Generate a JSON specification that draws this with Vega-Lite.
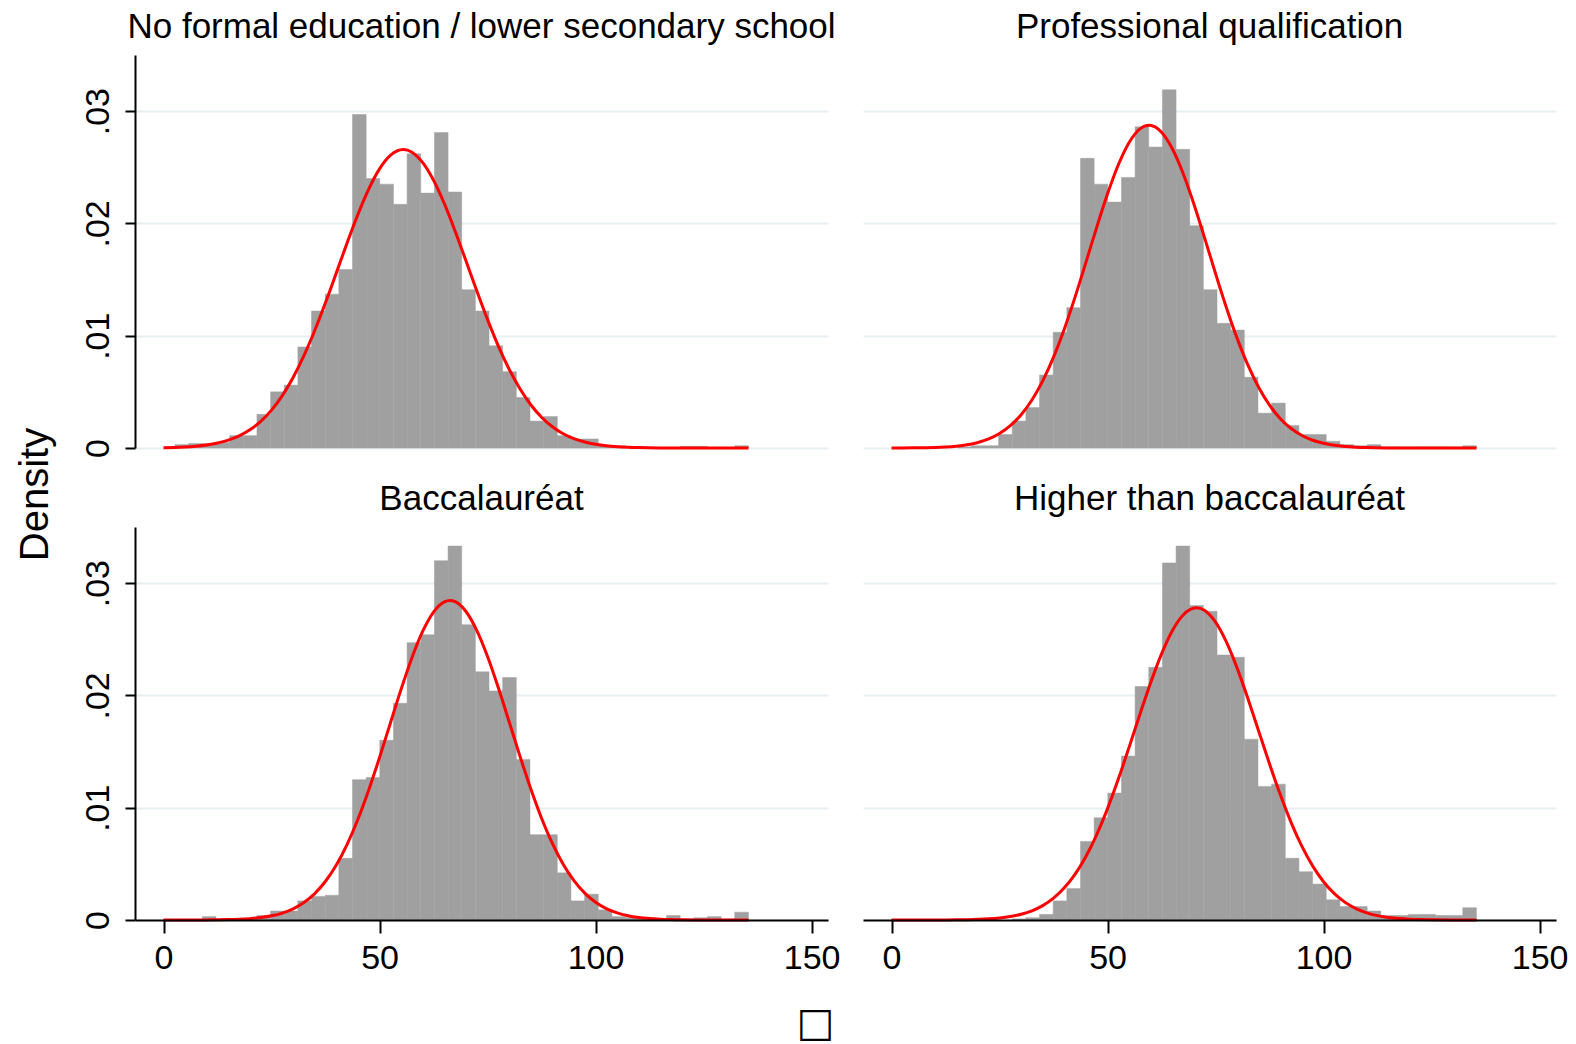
{
  "$schema": "https://vega.github.io/schema/vega-lite/v6.json",
  "background": "white",
  "padding": {"left": 15, "top": 10, "right": 4, "bottom": 3},
  "bounds": "flush",
  "columns": 2,
  "spacing": {"row": 79, "column": 35},
  "config": {
    "view": {"stroke": null},
    "font": "Liberation Sans",
    "axis": {
      "labelFont": "Liberation Sans", "labelColor": "#000", "labelFontSize": 34,
      "titleFont": "Liberation Sans", "titleColor": "#000", "titleFontWeight": "normal",
      "domainColor": "#000", "domainWidth": 2, "tickColor": "#000", "tickWidth": 2,
      "gridColor": "#e8eff1", "gridWidth": 2, "labelFlush": false, "labelOverlap": false
    },
    "title": {"font": "Liberation Sans", "fontSize": 35, "fontWeight": "normal", "color": "#000", "anchor": "middle", "baseline": "alphabetic", "offset": 10, "frame": "group"}
  },
  "datasets": {
    "bars": [
      {"panel": "TL", "score": 2.66, "score_end": 5.82, "density": 0.0003},
      {"panel": "TL", "score": 5.82, "score_end": 8.98, "density": 0.0004},
      {"panel": "TL", "score": 8.98, "score_end": 12.14, "density": 0.0004},
      {"panel": "TL", "score": 12.14, "score_end": 15.3, "density": 0.0005},
      {"panel": "TL", "score": 15.3, "score_end": 18.46, "density": 0.0011},
      {"panel": "TL", "score": 18.46, "score_end": 21.62, "density": 0.0011},
      {"panel": "TL", "score": 21.62, "score_end": 24.78, "density": 0.0030},
      {"panel": "TL", "score": 24.78, "score_end": 27.94, "density": 0.0050},
      {"panel": "TL", "score": 27.94, "score_end": 31.1, "density": 0.0056},
      {"panel": "TL", "score": 31.1, "score_end": 34.26, "density": 0.0090},
      {"panel": "TL", "score": 34.26, "score_end": 37.42, "density": 0.0122},
      {"panel": "TL", "score": 37.42, "score_end": 40.58, "density": 0.0137},
      {"panel": "TL", "score": 40.58, "score_end": 43.74, "density": 0.0159},
      {"panel": "TL", "score": 43.74, "score_end": 46.9, "density": 0.0297},
      {"panel": "TL", "score": 46.9, "score_end": 50.06, "density": 0.0240},
      {"panel": "TL", "score": 50.06, "score_end": 53.22, "density": 0.0235},
      {"panel": "TL", "score": 53.22, "score_end": 56.38, "density": 0.0217},
      {"panel": "TL", "score": 56.38, "score_end": 59.54, "density": 0.0262},
      {"panel": "TL", "score": 59.54, "score_end": 62.7, "density": 0.0227},
      {"panel": "TL", "score": 62.7, "score_end": 65.86, "density": 0.0281},
      {"panel": "TL", "score": 65.86, "score_end": 69.02, "density": 0.0228},
      {"panel": "TL", "score": 69.02, "score_end": 72.18, "density": 0.0141},
      {"panel": "TL", "score": 72.18, "score_end": 75.34, "density": 0.0122},
      {"panel": "TL", "score": 75.34, "score_end": 78.5, "density": 0.0091},
      {"panel": "TL", "score": 78.5, "score_end": 81.66, "density": 0.0068},
      {"panel": "TL", "score": 81.66, "score_end": 84.82, "density": 0.0045},
      {"panel": "TL", "score": 84.82, "score_end": 87.98, "density": 0.0024},
      {"panel": "TL", "score": 87.98, "score_end": 91.14, "density": 0.0028},
      {"panel": "TL", "score": 91.14, "score_end": 94.3, "density": 0.0011},
      {"panel": "TL", "score": 94.3, "score_end": 97.46, "density": 0.0008},
      {"panel": "TL", "score": 97.46, "score_end": 100.62, "density": 0.0008},
      {"panel": "TL", "score": 100.62, "score_end": 103.78, "density": 0.0002},
      {"panel": "TL", "score": 103.78, "score_end": 106.94, "density": 0.0002},
      {"panel": "TL", "score": 119.58, "score_end": 122.74, "density": 0.00015},
      {"panel": "TL", "score": 122.74, "score_end": 125.9, "density": 0.00015},
      {"panel": "TL", "score": 132.22, "score_end": 135.38, "density": 0.0002},

      {"panel": "TR", "score": 15.3, "score_end": 18.46, "density": 0.0001},
      {"panel": "TR", "score": 18.46, "score_end": 21.62, "density": 0.0002},
      {"panel": "TR", "score": 21.62, "score_end": 24.78, "density": 0.0002},
      {"panel": "TR", "score": 24.78, "score_end": 27.94, "density": 0.0012},
      {"panel": "TR", "score": 27.94, "score_end": 31.1, "density": 0.0024},
      {"panel": "TR", "score": 31.1, "score_end": 34.26, "density": 0.0036},
      {"panel": "TR", "score": 34.26, "score_end": 37.42, "density": 0.0065},
      {"panel": "TR", "score": 37.42, "score_end": 40.58, "density": 0.0103},
      {"panel": "TR", "score": 40.58, "score_end": 43.74, "density": 0.0125},
      {"panel": "TR", "score": 43.74, "score_end": 46.9, "density": 0.0258},
      {"panel": "TR", "score": 46.9, "score_end": 50.06, "density": 0.0235},
      {"panel": "TR", "score": 50.06, "score_end": 53.22, "density": 0.0219},
      {"panel": "TR", "score": 53.22, "score_end": 56.38, "density": 0.0241},
      {"panel": "TR", "score": 56.38, "score_end": 59.54, "density": 0.0286},
      {"panel": "TR", "score": 59.54, "score_end": 62.7, "density": 0.0268},
      {"panel": "TR", "score": 62.7, "score_end": 65.86, "density": 0.0319},
      {"panel": "TR", "score": 65.86, "score_end": 69.02, "density": 0.0266},
      {"panel": "TR", "score": 69.02, "score_end": 72.18, "density": 0.0198},
      {"panel": "TR", "score": 72.18, "score_end": 75.34, "density": 0.0141},
      {"panel": "TR", "score": 75.34, "score_end": 78.5, "density": 0.0111},
      {"panel": "TR", "score": 78.5, "score_end": 81.66, "density": 0.0105},
      {"panel": "TR", "score": 81.66, "score_end": 84.82, "density": 0.0063},
      {"panel": "TR", "score": 84.82, "score_end": 87.98, "density": 0.0031},
      {"panel": "TR", "score": 87.98, "score_end": 91.14, "density": 0.0040},
      {"panel": "TR", "score": 91.14, "score_end": 94.3, "density": 0.0020},
      {"panel": "TR", "score": 94.3, "score_end": 97.46, "density": 0.0012},
      {"panel": "TR", "score": 97.46, "score_end": 100.62, "density": 0.0012},
      {"panel": "TR", "score": 100.62, "score_end": 103.78, "density": 0.0006},
      {"panel": "TR", "score": 103.78, "score_end": 106.94, "density": 0.0003},
      {"panel": "TR", "score": 106.94, "score_end": 110.1, "density": 0.0002},
      {"panel": "TR", "score": 110.1, "score_end": 113.26, "density": 0.0003},
      {"panel": "TR", "score": 113.26, "score_end": 116.42, "density": 0.0001},
      {"panel": "TR", "score": 116.42, "score_end": 119.58, "density": 0.0001},
      {"panel": "TR", "score": 119.58, "score_end": 122.74, "density": 0.0001},
      {"panel": "TR", "score": 122.74, "score_end": 125.9, "density": 0.0001},
      {"panel": "TR", "score": 125.9, "score_end": 129.06, "density": 0.0001},
      {"panel": "TR", "score": 129.06, "score_end": 132.22, "density": 0.0001},
      {"panel": "TR", "score": 132.22, "score_end": 135.38, "density": 0.0002},

      {"panel": "BL", "score": 8.98, "score_end": 12.14, "density": 0.0003},
      {"panel": "BL", "score": 18.46, "score_end": 21.62, "density": 0.0001},
      {"panel": "BL", "score": 21.62, "score_end": 24.78, "density": 0.0004},
      {"panel": "BL", "score": 24.78, "score_end": 27.94, "density": 0.0008},
      {"panel": "BL", "score": 27.94, "score_end": 31.1, "density": 0.0008},
      {"panel": "BL", "score": 31.1, "score_end": 34.26, "density": 0.0017},
      {"panel": "BL", "score": 34.26, "score_end": 37.42, "density": 0.0021},
      {"panel": "BL", "score": 37.42, "score_end": 40.58, "density": 0.0022},
      {"panel": "BL", "score": 40.58, "score_end": 43.74, "density": 0.0055},
      {"panel": "BL", "score": 43.74, "score_end": 46.9, "density": 0.0125},
      {"panel": "BL", "score": 46.9, "score_end": 50.06, "density": 0.0127},
      {"panel": "BL", "score": 50.06, "score_end": 53.22, "density": 0.0160},
      {"panel": "BL", "score": 53.22, "score_end": 56.38, "density": 0.0193},
      {"panel": "BL", "score": 56.38, "score_end": 59.54, "density": 0.0247},
      {"panel": "BL", "score": 59.54, "score_end": 62.7, "density": 0.0254},
      {"panel": "BL", "score": 62.7, "score_end": 65.86, "density": 0.0320},
      {"panel": "BL", "score": 65.86, "score_end": 69.02, "density": 0.0333},
      {"panel": "BL", "score": 69.02, "score_end": 72.18, "density": 0.0263},
      {"panel": "BL", "score": 72.18, "score_end": 75.34, "density": 0.0221},
      {"panel": "BL", "score": 75.34, "score_end": 78.5, "density": 0.0204},
      {"panel": "BL", "score": 78.5, "score_end": 81.66, "density": 0.0216},
      {"panel": "BL", "score": 81.66, "score_end": 84.82, "density": 0.0143},
      {"panel": "BL", "score": 84.82, "score_end": 87.98, "density": 0.0076},
      {"panel": "BL", "score": 87.98, "score_end": 91.14, "density": 0.0076},
      {"panel": "BL", "score": 91.14, "score_end": 94.3, "density": 0.0042},
      {"panel": "BL", "score": 94.3, "score_end": 97.46, "density": 0.0017},
      {"panel": "BL", "score": 97.46, "score_end": 100.62, "density": 0.0023},
      {"panel": "BL", "score": 100.62, "score_end": 103.78, "density": 0.0009},
      {"panel": "BL", "score": 103.78, "score_end": 106.94, "density": 0.0003},
      {"panel": "BL", "score": 106.94, "score_end": 110.1, "density": 0.0002},
      {"panel": "BL", "score": 110.1, "score_end": 113.26, "density": 0.0001},
      {"panel": "BL", "score": 116.42, "score_end": 119.58, "density": 0.0004},
      {"panel": "BL", "score": 119.58, "score_end": 122.74, "density": 0.0001},
      {"panel": "BL", "score": 122.74, "score_end": 125.9, "density": 0.0002},
      {"panel": "BL", "score": 125.9, "score_end": 129.06, "density": 0.0003},
      {"panel": "BL", "score": 129.06, "score_end": 132.22, "density": 0.0001},
      {"panel": "BL", "score": 132.22, "score_end": 135.38, "density": 0.0007},

      {"panel": "BR", "score": 27.94, "score_end": 31.1, "density": 0.0001},
      {"panel": "BR", "score": 31.1, "score_end": 34.26, "density": 0.0002},
      {"panel": "BR", "score": 34.26, "score_end": 37.42, "density": 0.0005},
      {"panel": "BR", "score": 37.42, "score_end": 40.58, "density": 0.0017},
      {"panel": "BR", "score": 40.58, "score_end": 43.74, "density": 0.0028},
      {"panel": "BR", "score": 43.74, "score_end": 46.9, "density": 0.0070},
      {"panel": "BR", "score": 46.9, "score_end": 50.06, "density": 0.0091},
      {"panel": "BR", "score": 50.06, "score_end": 53.22, "density": 0.0113},
      {"panel": "BR", "score": 53.22, "score_end": 56.38, "density": 0.0146},
      {"panel": "BR", "score": 56.38, "score_end": 59.54, "density": 0.0208},
      {"panel": "BR", "score": 59.54, "score_end": 62.7, "density": 0.0225},
      {"panel": "BR", "score": 62.7, "score_end": 65.86, "density": 0.0318},
      {"panel": "BR", "score": 65.86, "score_end": 69.02, "density": 0.0333},
      {"panel": "BR", "score": 69.02, "score_end": 72.18, "density": 0.0280},
      {"panel": "BR", "score": 72.18, "score_end": 75.34, "density": 0.0275},
      {"panel": "BR", "score": 75.34, "score_end": 78.5, "density": 0.0236},
      {"panel": "BR", "score": 78.5, "score_end": 81.66, "density": 0.0234},
      {"panel": "BR", "score": 81.66, "score_end": 84.82, "density": 0.0161},
      {"panel": "BR", "score": 84.82, "score_end": 87.98, "density": 0.0119},
      {"panel": "BR", "score": 87.98, "score_end": 91.14, "density": 0.0121},
      {"panel": "BR", "score": 91.14, "score_end": 94.3, "density": 0.0055},
      {"panel": "BR", "score": 94.3, "score_end": 97.46, "density": 0.0043},
      {"panel": "BR", "score": 97.46, "score_end": 100.62, "density": 0.0032},
      {"panel": "BR", "score": 100.62, "score_end": 103.78, "density": 0.0018},
      {"panel": "BR", "score": 103.78, "score_end": 106.94, "density": 0.0012},
      {"panel": "BR", "score": 106.94, "score_end": 110.1, "density": 0.0012},
      {"panel": "BR", "score": 110.1, "score_end": 113.26, "density": 0.0008},
      {"panel": "BR", "score": 113.26, "score_end": 116.42, "density": 0.0004},
      {"panel": "BR", "score": 116.42, "score_end": 119.58, "density": 0.0004},
      {"panel": "BR", "score": 119.58, "score_end": 122.74, "density": 0.0005},
      {"panel": "BR", "score": 122.74, "score_end": 125.9, "density": 0.0005},
      {"panel": "BR", "score": 125.9, "score_end": 129.06, "density": 0.0004},
      {"panel": "BR", "score": 129.06, "score_end": 132.22, "density": 0.0004},
      {"panel": "BR", "score": 132.22, "score_end": 135.38, "density": 0.0011}
    ],
    "curve": [
      {"panel": "TL", "score": 0, "density": 0.000029},
      {"panel": "TL", "score": 2.5, "density": 0.000052},
      {"panel": "TL", "score": 5, "density": 0.000093},
      {"panel": "TL", "score": 7.5, "density": 0.00016},
      {"panel": "TL", "score": 10, "density": 0.000269},
      {"panel": "TL", "score": 12.5, "density": 0.000439},
      {"panel": "TL", "score": 15, "density": 0.000698},
      {"panel": "TL", "score": 17.5, "density": 0.001078},
      {"panel": "TL", "score": 20, "density": 0.001621},
      {"panel": "TL", "score": 22.5, "density": 0.002371},
      {"panel": "TL", "score": 25, "density": 0.003372},
      {"panel": "TL", "score": 27.5, "density": 0.004665},
      {"panel": "TL", "score": 30, "density": 0.006278},
      {"panel": "TL", "score": 32.5, "density": 0.008217},
      {"panel": "TL", "score": 35, "density": 0.010459},
      {"panel": "TL", "score": 37.5, "density": 0.012951},
      {"panel": "TL", "score": 40, "density": 0.015596},
      {"panel": "TL", "score": 42.5, "density": 0.018268},
      {"panel": "TL", "score": 45, "density": 0.020811},
      {"panel": "TL", "score": 47.5, "density": 0.02306},
      {"panel": "TL", "score": 50, "density": 0.024854},
      {"panel": "TL", "score": 52.5, "density": 0.026054},
      {"panel": "TL", "score": 55.5, "density": 0.02658},
      {"panel": "TL", "score": 57.5, "density": 0.026345},
      {"panel": "TL", "score": 60, "density": 0.025412},
      {"panel": "TL", "score": 62.5, "density": 0.023841},
      {"panel": "TL", "score": 65, "density": 0.021756},
      {"panel": "TL", "score": 67.5, "density": 0.01931},
      {"panel": "TL", "score": 70, "density": 0.01667},
      {"panel": "TL", "score": 72.5, "density": 0.013996},
      {"panel": "TL", "score": 75, "density": 0.01143},
      {"panel": "TL", "score": 77.5, "density": 0.00908},
      {"panel": "TL", "score": 80, "density": 0.007015},
      {"panel": "TL", "score": 82.5, "density": 0.005271},
      {"panel": "TL", "score": 85, "density": 0.003853},
      {"panel": "TL", "score": 87.5, "density": 0.002739},
      {"panel": "TL", "score": 90, "density": 0.001894},
      {"panel": "TL", "score": 92.5, "density": 0.001274},
      {"panel": "TL", "score": 95, "density": 0.000833},
      {"panel": "TL", "score": 97.5, "density": 0.00053},
      {"panel": "TL", "score": 100, "density": 0.000328},
      {"panel": "TL", "score": 102.5, "density": 0.000197},
      {"panel": "TL", "score": 105, "density": 0.000116},
      {"panel": "TL", "score": 107.5, "density": 0.000066},
      {"panel": "TL", "score": 110, "density": 0.000037},
      {"panel": "TL", "score": 115, "density": 0.00001},
      {"panel": "TL", "score": 120, "density": 0.000003},
      {"panel": "TL", "score": 125, "density": 0.000001},
      {"panel": "TL", "score": 130, "density": 0},
      {"panel": "TL", "score": 135.4, "density": 0},

      {"panel": "TR", "score": 0, "density": 0.000003},
      {"panel": "TR", "score": 5, "density": 0.000013},
      {"panel": "TR", "score": 10, "density": 0.000049},
      {"panel": "TR", "score": 12.5, "density": 0.000091},
      {"panel": "TR", "score": 15, "density": 0.000165},
      {"panel": "TR", "score": 17.5, "density": 0.000289},
      {"panel": "TR", "score": 20, "density": 0.000491},
      {"panel": "TR", "score": 22.5, "density": 0.000808},
      {"panel": "TR", "score": 25, "density": 0.001286},
      {"panel": "TR", "score": 27.5, "density": 0.001983},
      {"panel": "TR", "score": 30, "density": 0.002959},
      {"panel": "TR", "score": 32.5, "density": 0.004275},
      {"panel": "TR", "score": 35, "density": 0.005978},
      {"panel": "TR", "score": 37.5, "density": 0.008094},
      {"panel": "TR", "score": 40, "density": 0.010608},
      {"panel": "TR", "score": 42.5, "density": 0.01346},
      {"panel": "TR", "score": 45, "density": 0.016535},
      {"panel": "TR", "score": 47.5, "density": 0.019662},
      {"panel": "TR", "score": 50, "density": 0.022634},
      {"panel": "TR", "score": 52.5, "density": 0.025224},
      {"panel": "TR", "score": 55, "density": 0.027214},
      {"panel": "TR", "score": 57.5, "density": 0.028423},
      {"panel": "TR", "score": 59.6, "density": 0.02875},
      {"panel": "TR", "score": 62.5, "density": 0.028129},
      {"panel": "TR", "score": 65, "density": 0.026654},
      {"panel": "TR", "score": 67.5, "density": 0.024451},
      {"panel": "TR", "score": 70, "density": 0.021713},
      {"panel": "TR", "score": 72.5, "density": 0.018667},
      {"panel": "TR", "score": 75, "density": 0.015536},
      {"panel": "TR", "score": 77.5, "density": 0.012517},
      {"panel": "TR", "score": 80, "density": 0.009762},
      {"panel": "TR", "score": 82.5, "density": 0.007372},
      {"panel": "TR", "score": 85, "density": 0.005388},
      {"panel": "TR", "score": 87.5, "density": 0.003813},
      {"panel": "TR", "score": 90, "density": 0.002612},
      {"panel": "TR", "score": 92.5, "density": 0.001732},
      {"panel": "TR", "score": 95, "density": 0.001112},
      {"panel": "TR", "score": 97.5, "density": 0.000691},
      {"panel": "TR", "score": 100, "density": 0.000416},
      {"panel": "TR", "score": 102.5, "density": 0.000242},
      {"panel": "TR", "score": 105, "density": 0.000137},
      {"panel": "TR", "score": 107.5, "density": 0.000075},
      {"panel": "TR", "score": 110, "density": 0.000039},
      {"panel": "TR", "score": 115, "density": 0.00001},
      {"panel": "TR", "score": 120, "density": 0.000002},
      {"panel": "TR", "score": 125, "density": 0},
      {"panel": "TR", "score": 135.4, "density": 0},

      {"panel": "BL", "score": 0, "density": 0},
      {"panel": "BL", "score": 5, "density": 0.000002},
      {"panel": "BL", "score": 10, "density": 0.000009},
      {"panel": "BL", "score": 12.5, "density": 0.000018},
      {"panel": "BL", "score": 15, "density": 0.000035},
      {"panel": "BL", "score": 17.5, "density": 0.000067},
      {"panel": "BL", "score": 20, "density": 0.000122},
      {"panel": "BL", "score": 22.5, "density": 0.000216},
      {"panel": "BL", "score": 25, "density": 0.000371},
      {"panel": "BL", "score": 27.5, "density": 0.000618},
      {"panel": "BL", "score": 30, "density": 0.000996},
      {"panel": "BL", "score": 32.5, "density": 0.001556},
      {"panel": "BL", "score": 35, "density": 0.002354},
      {"panel": "BL", "score": 37.5, "density": 0.003449},
      {"panel": "BL", "score": 40, "density": 0.004897},
      {"panel": "BL", "score": 42.5, "density": 0.006734},
      {"panel": "BL", "score": 45, "density": 0.008971},
      {"panel": "BL", "score": 47.5, "density": 0.011577},
      {"panel": "BL", "score": 50, "density": 0.014474},
      {"panel": "BL", "score": 52.5, "density": 0.017526},
      {"panel": "BL", "score": 55, "density": 0.02056},
      {"panel": "BL", "score": 57.5, "density": 0.023363},
      {"panel": "BL", "score": 60, "density": 0.025718},
      {"panel": "BL", "score": 62.5, "density": 0.027424},
      {"panel": "BL", "score": 65, "density": 0.028328},
      {"panel": "BL", "score": 66.3, "density": 0.028456},
      {"panel": "BL", "score": 67.5, "density": 0.028346},
      {"panel": "BL", "score": 70, "density": 0.027476},
      {"panel": "BL", "score": 72.5, "density": 0.0258},
      {"panel": "BL", "score": 75, "density": 0.023467},
      {"panel": "BL", "score": 77.5, "density": 0.020678},
      {"panel": "BL", "score": 80, "density": 0.017649},
      {"panel": "BL", "score": 82.5, "density": 0.014594},
      {"panel": "BL", "score": 85, "density": 0.011688},
      {"panel": "BL", "score": 87.5, "density": 0.009068},
      {"panel": "BL", "score": 90, "density": 0.006816},
      {"panel": "BL", "score": 92.5, "density": 0.004963},
      {"panel": "BL", "score": 95, "density": 0.0035},
      {"panel": "BL", "score": 97.5, "density": 0.002391},
      {"panel": "BL", "score": 100, "density": 0.001583},
      {"panel": "BL", "score": 102.5, "density": 0.001015},
      {"panel": "BL", "score": 105, "density": 0.00063},
      {"panel": "BL", "score": 107.5, "density": 0.000379},
      {"panel": "BL", "score": 110, "density": 0.000221},
      {"panel": "BL", "score": 112.5, "density": 0.000125},
      {"panel": "BL", "score": 115, "density": 0.000068},
      {"panel": "BL", "score": 117.5, "density": 0.000036},
      {"panel": "BL", "score": 120, "density": 0.000019},
      {"panel": "BL", "score": 125, "density": 0.000004},
      {"panel": "BL", "score": 130, "density": 0.000001},
      {"panel": "BL", "score": 135.4, "density": 0},

      {"panel": "BR", "score": 0, "density": 0},
      {"panel": "BR", "score": 5, "density": 0.000001},
      {"panel": "BR", "score": 10, "density": 0.000004},
      {"panel": "BR", "score": 12.5, "density": 0.000008},
      {"panel": "BR", "score": 15, "density": 0.000015},
      {"panel": "BR", "score": 17.5, "density": 0.00003},
      {"panel": "BR", "score": 20, "density": 0.000056},
      {"panel": "BR", "score": 22.5, "density": 0.000101},
      {"panel": "BR", "score": 25, "density": 0.000178},
      {"panel": "BR", "score": 27.5, "density": 0.000306},
      {"panel": "BR", "score": 30, "density": 0.000508},
      {"panel": "BR", "score": 32.5, "density": 0.000819},
      {"panel": "BR", "score": 35, "density": 0.001281},
      {"panel": "BR", "score": 37.5, "density": 0.001944},
      {"panel": "BR", "score": 40, "density": 0.002862},
      {"panel": "BR", "score": 42.5, "density": 0.004087},
      {"panel": "BR", "score": 45, "density": 0.005662},
      {"panel": "BR", "score": 47.5, "density": 0.007609},
      {"panel": "BR", "score": 50, "density": 0.009921},
      {"panel": "BR", "score": 52.5, "density": 0.012548},
      {"panel": "BR", "score": 55, "density": 0.015396},
      {"panel": "BR", "score": 57.5, "density": 0.018327},
      {"panel": "BR", "score": 60, "density": 0.021161},
      {"panel": "BR", "score": 62.5, "density": 0.023706},
      {"panel": "BR", "score": 65, "density": 0.025762},
      {"panel": "BR", "score": 67.5, "density": 0.027159},
      {"panel": "BR", "score": 70.6, "density": 0.0278},
      {"panel": "BR", "score": 72.5, "density": 0.027557},
      {"panel": "BR", "score": 75, "density": 0.026524},
      {"panel": "BR", "score": 77.5, "density": 0.024765},
      {"panel": "BR", "score": 80, "density": 0.022432},
      {"panel": "BR", "score": 82.5, "density": 0.019711},
      {"panel": "BR", "score": 85, "density": 0.016801},
      {"panel": "BR", "score": 87.5, "density": 0.013894},
      {"panel": "BR", "score": 90, "density": 0.011147},
      {"panel": "BR", "score": 92.5, "density": 0.008676},
      {"panel": "BR", "score": 95, "density": 0.00655},
      {"panel": "BR", "score": 97.5, "density": 0.004797},
      {"panel": "BR", "score": 100, "density": 0.003409},
      {"panel": "BR", "score": 102.5, "density": 0.002349},
      {"panel": "BR", "score": 105, "density": 0.001571},
      {"panel": "BR", "score": 107.5, "density": 0.001019},
      {"panel": "BR", "score": 110, "density": 0.000641},
      {"panel": "BR", "score": 112.5, "density": 0.000391},
      {"panel": "BR", "score": 115, "density": 0.000232},
      {"panel": "BR", "score": 117.5, "density": 0.000133},
      {"panel": "BR", "score": 120, "density": 0.000074},
      {"panel": "BR", "score": 122.5, "density": 0.00004},
      {"panel": "BR", "score": 125, "density": 0.000021},
      {"panel": "BR", "score": 130, "density": 0.000005},
      {"panel": "BR", "score": 135.4, "density": 0.000001}
    ]
  },
  "concat": [
    {
      "width": 693, "height": 393,
      "title": {"text": "No formal education / lower secondary school"},
      "encoding": {
        "x": {"field": "score", "type": "quantitative", "scale": {"domain": [-6.6, 153.8], "nice": false, "zero": false}, "axis": null},
        "y": {"field": "density", "type": "quantitative", "scale": {"domain": [0, 0.035], "nice": false},
          "axis": {"values": [0, 0.01, 0.02, 0.03], "labelExpr": "datum.value === 0 ? '0' : replace(format(datum.value, '.2f'), '0.', '.')",
            "labelAngle": -90, "labelAlign": "center", "labelBaseline": "alphabetic", "labelPadding": 17, "tickSize": 10,
            "grid": true, "domain": true, "title": "Density", "titleFontSize": 40, "titleAngle": -90,
            "titleX": -100, "titleY": 439, "titleAlign": "center", "titleBaseline": "middle"}}
      },
      "layer": [
        {
          "data": {"name": "bars"},
          "transform": [{"filter": "datum.panel === 'TL'"}],
          "mark": {"type": "rect", "color": "#a0a0a0", "stroke": "#a0a0a0", "strokeWidth": 0.5},
          "encoding": {"x2": {"field": "score_end"}, "y2": {"datum": 0}}
        },
        {
          "data": {"name": "curve"},
          "transform": [{"filter": "datum.panel === 'TL'"}],
          "mark": {"type": "line", "color": "#ff0000", "strokeWidth": 3, "interpolate": "monotone"}
        }
      ]
    },
    {
      "width": 693, "height": 393,
      "title": {"text": "Professional qualification"},
      "encoding": {
        "x": {"field": "score", "type": "quantitative", "scale": {"domain": [-6.6, 153.8], "nice": false, "zero": false}, "axis": null},
        "y": {"field": "density", "type": "quantitative", "scale": {"domain": [0, 0.035], "nice": false},
          "axis": {"values": [0, 0.01, 0.02, 0.03], "grid": true, "labels": false, "ticks": false, "domain": false, "title": null}}
      },
      "layer": [
        {
          "data": {"name": "bars"},
          "transform": [{"filter": "datum.panel === 'TR'"}],
          "mark": {"type": "rect", "color": "#a0a0a0", "stroke": "#a0a0a0", "strokeWidth": 0.5},
          "encoding": {"x2": {"field": "score_end"}, "y2": {"datum": 0}}
        },
        {
          "data": {"name": "curve"},
          "transform": [{"filter": "datum.panel === 'TR'"}],
          "mark": {"type": "line", "color": "#ff0000", "strokeWidth": 3, "interpolate": "monotone"}
        }
      ]
    },
    {
      "width": 693, "height": 393,
      "title": {"text": "Baccalauréat"},
      "encoding": {
        "x": {"field": "score", "type": "quantitative", "scale": {"domain": [-6.6, 153.8], "nice": false, "zero": false},
          "axis": {"values": [0, 50, 100, 150], "grid": false, "domain": true, "tickSize": 13, "labelBaseline": "alphabetic", "labelPadding": 35, "zindex": 1,
            "title": "□", "titleFont": "DejaVu Sans", "titleFontSize": 40, "titleX": 680, "titleY": 103, "titleAlign": "center", "titleBaseline": "middle"}},
        "y": {"field": "density", "type": "quantitative", "scale": {"domain": [0, 0.035], "nice": false},
          "axis": {"values": [0, 0.01, 0.02, 0.03], "labelExpr": "datum.value === 0 ? '0' : replace(format(datum.value, '.2f'), '0.', '.')",
            "labelAngle": -90, "labelAlign": "center", "labelBaseline": "alphabetic", "labelPadding": 17, "tickSize": 10,
            "grid": true, "domain": true, "title": null}}
      },
      "layer": [
        {
          "data": {"name": "bars"},
          "transform": [{"filter": "datum.panel === 'BL'"}],
          "mark": {"type": "rect", "color": "#a0a0a0", "stroke": "#a0a0a0", "strokeWidth": 0.5},
          "encoding": {"x2": {"field": "score_end"}, "y2": {"datum": 0}}
        },
        {
          "data": {"name": "curve"},
          "transform": [{"filter": "datum.panel === 'BL'"}],
          "mark": {"type": "line", "color": "#ff0000", "strokeWidth": 3, "interpolate": "monotone"}
        }
      ]
    },
    {
      "width": 693, "height": 393,
      "title": {"text": "Higher than baccalauréat"},
      "encoding": {
        "x": {"field": "score", "type": "quantitative", "scale": {"domain": [-6.6, 153.8], "nice": false, "zero": false},
          "axis": {"values": [0, 50, 100, 150], "grid": false, "domain": true, "tickSize": 13, "labelBaseline": "alphabetic", "labelPadding": 35, "zindex": 1, "title": null}},
        "y": {"field": "density", "type": "quantitative", "scale": {"domain": [0, 0.035], "nice": false},
          "axis": {"values": [0, 0.01, 0.02, 0.03], "grid": true, "labels": false, "ticks": false, "domain": false, "title": null}}
      },
      "layer": [
        {
          "data": {"name": "bars"},
          "transform": [{"filter": "datum.panel === 'BR'"}],
          "mark": {"type": "rect", "color": "#a0a0a0", "stroke": "#a0a0a0", "strokeWidth": 0.5},
          "encoding": {"x2": {"field": "score_end"}, "y2": {"datum": 0}}
        },
        {
          "data": {"name": "curve"},
          "transform": [{"filter": "datum.panel === 'BR'"}],
          "mark": {"type": "line", "color": "#ff0000", "strokeWidth": 3, "interpolate": "monotone"}
        }
      ]
    }
  ]
}
